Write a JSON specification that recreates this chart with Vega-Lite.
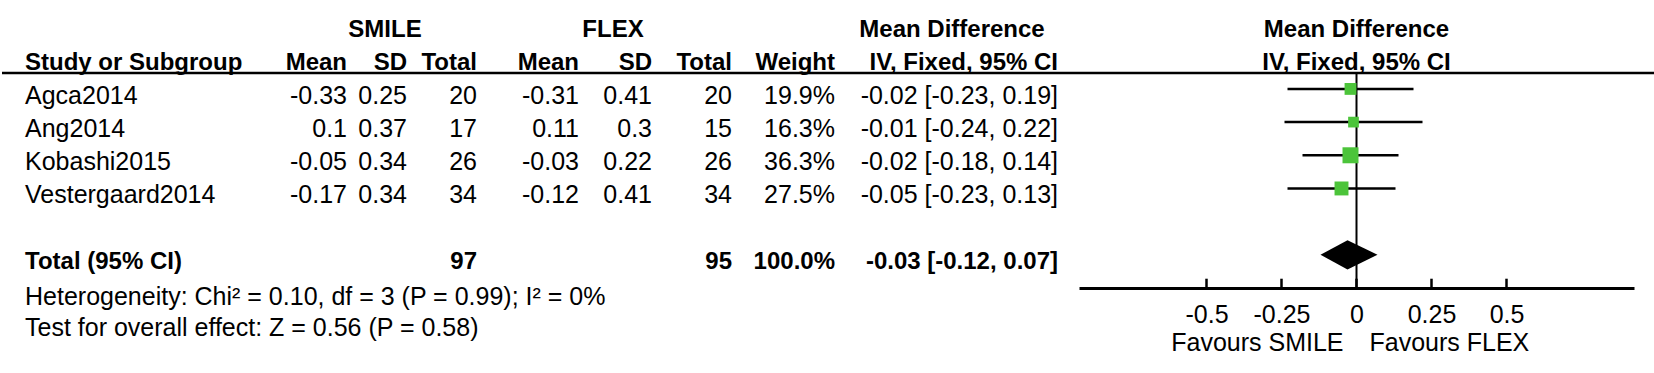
{
"$schema":"https://vega.github.io/schema/vega-lite/v6.json",
"padding":0,
"spacing":0,
"bounds":"flush",
"background":"white",
"config":{"view":{"stroke":null},"text":{"font":"Liberation Sans","fontSize":25,"color":"black"}},
"data":{"values":[{}]},
"datasets":{
"studies":[
{"study":"Agca2014","row":1,"s_mean":-0.33,"s_sd":0.25,"s_n":20,"f_mean":-0.31,"f_sd":0.41,"f_n":20,"weight":19.9,"w":"19.9%","md":-0.02,"lo":-0.23,"hi":0.19,"ci":"-0.02 [-0.23, 0.19]"},
{"study":"Ang2014","row":2,"s_mean":0.1,"s_sd":0.37,"s_n":17,"f_mean":0.11,"f_sd":0.3,"f_n":15,"weight":16.3,"w":"16.3%","md":-0.01,"lo":-0.24,"hi":0.22,"ci":"-0.01 [-0.24, 0.22]"},
{"study":"Kobashi2015","row":3,"s_mean":-0.05,"s_sd":0.34,"s_n":26,"f_mean":-0.03,"f_sd":0.22,"f_n":26,"weight":36.3,"w":"36.3%","md":-0.02,"lo":-0.18,"hi":0.14,"ci":"-0.02 [-0.18, 0.14]"},
{"study":"Vestergaard2014","row":4,"s_mean":-0.17,"s_sd":0.34,"s_n":34,"f_mean":-0.12,"f_sd":0.41,"f_n":34,"weight":27.5,"w":"27.5%","md":-0.05,"lo":-0.23,"hi":0.13,"ci":"-0.05 [-0.23, 0.13]"}
],
"total":[{"label":"Total (95% CI)","row":6,"s_n":97,"f_n":95,"w":"100.0%","ci":"-0.03 [-0.12, 0.07]","md":-0.03,"lo":-0.12,"hi":0.07}],
"diamond":[{"x":-0.12,"top":6,"bottom":6},{"x":-0.03,"top":5.56,"bottom":6.44},{"x":0.07,"top":6,"bottom":6}],
"ticks":[{"v":-0.5},{"v":-0.25},{"v":0},{"v":0.25},{"v":0.5}]
},
"hconcat":[
{"width":270,"height":288,"layer":[
{"mark":{"type":"rule","strokeWidth":2.5,"color":"black"},"encoding":{"y":{"datum":0.52,"type":"quantitative","scale":{"domain":[-1.68,7],"reverse":true,"nice":false,"zero":false},"axis":null}}},
{"mark":{"type":"text","align":"left","baseline":"middle","dx":23,"dy":7,"fontWeight":"bold","fontSize":24},"encoding":{"x":{"value":0},"y":{"datum":0,"type":"quantitative","scale":{"domain":[-1.68,7],"reverse":true,"nice":false,"zero":false},"axis":null},"text":{"value":"Study or Subgroup"}}},
{"data":{"name":"studies"},"mark":{"type":"text","align":"left","baseline":"middle","dx":23,"dy":7},"encoding":{"x":{"value":0},"y":{"field":"row","type":"quantitative","scale":{"domain":[-1.68,7],"reverse":true,"nice":false,"zero":false},"axis":null},"text":{"field":"study","type":"nominal"}}},
{"data":{"name":"total"},"mark":{"type":"text","align":"left","baseline":"middle","dx":23,"dy":7,"fontWeight":"bold","fontSize":24},"encoding":{"x":{"value":0},"y":{"field":"row","type":"quantitative","scale":{"domain":[-1.68,7],"reverse":true,"nice":false,"zero":false},"axis":null},"text":{"field":"label","type":"nominal"}}},
{"mark":{"type":"text","align":"left","baseline":"middle","dx":23,"dy":7},"encoding":{"x":{"value":0},"y":{"datum":7.05,"type":"quantitative","scale":{"domain":[-1.68,7],"reverse":true,"nice":false,"zero":false},"axis":null},"text":{"value":"Heterogeneity: Chi² = 0.10, df = 3 (P = 0.99); I² = 0%"}}},
{"mark":{"type":"text","align":"left","baseline":"middle","dx":23,"dy":7},"encoding":{"x":{"value":0},"y":{"datum":8,"type":"quantitative","scale":{"domain":[-1.68,7],"reverse":true,"nice":false,"zero":false},"axis":null},"text":{"value":"Test for overall effect: Z = 0.56 (P = 0.58)"}}}
]},
{"width":75,"height":288,"layer":[
{"mark":{"type":"rule","strokeWidth":2.5,"color":"black"},"encoding":{"y":{"datum":0.52,"type":"quantitative","scale":{"domain":[-1.68,7],"reverse":true,"nice":false,"zero":false},"axis":null}}},
{"mark":{"type":"text","align":"right","baseline":"middle","dy":7,"fontWeight":"bold","fontSize":24},"encoding":{"x":{"value":"width"},"y":{"datum":0,"type":"quantitative","scale":{"domain":[-1.68,7],"reverse":true,"nice":false,"zero":false},"axis":null},"text":{"value":"Mean"}}},
{"data":{"name":"studies"},"mark":{"type":"text","align":"right","baseline":"middle","dy":7},"encoding":{"x":{"value":"width"},"y":{"field":"row","type":"quantitative","scale":{"domain":[-1.68,7],"reverse":true,"nice":false,"zero":false},"axis":null},"text":{"field":"s_mean","type":"nominal"}}}
]},
{"width":60,"height":288,"layer":[
{"mark":{"type":"rule","strokeWidth":2.5,"color":"black"},"encoding":{"y":{"datum":0.52,"type":"quantitative","scale":{"domain":[-1.68,7],"reverse":true,"nice":false,"zero":false},"axis":null}}},
{"mark":{"type":"text","align":"right","baseline":"middle","dy":7,"fontWeight":"bold","fontSize":24},"encoding":{"x":{"value":"width"},"y":{"datum":0,"type":"quantitative","scale":{"domain":[-1.68,7],"reverse":true,"nice":false,"zero":false},"axis":null},"text":{"value":"SD"}}},
{"mark":{"type":"text","align":"center","baseline":"middle","dx":-22,"dy":7,"fontWeight":"bold","fontSize":24},"encoding":{"x":{"value":"width"},"y":{"datum":-1,"type":"quantitative","scale":{"domain":[-1.68,7],"reverse":true,"nice":false,"zero":false},"axis":null},"text":{"value":"SMILE"}}},
{"data":{"name":"studies"},"mark":{"type":"text","align":"right","baseline":"middle","dy":7},"encoding":{"x":{"value":"width"},"y":{"field":"row","type":"quantitative","scale":{"domain":[-1.68,7],"reverse":true,"nice":false,"zero":false},"axis":null},"text":{"field":"s_sd","type":"nominal"}}}
]},
{"width":70,"height":288,"layer":[
{"mark":{"type":"rule","strokeWidth":2.5,"color":"black"},"encoding":{"y":{"datum":0.52,"type":"quantitative","scale":{"domain":[-1.68,7],"reverse":true,"nice":false,"zero":false},"axis":null}}},
{"mark":{"type":"text","align":"right","baseline":"middle","dy":7,"fontWeight":"bold","fontSize":24},"encoding":{"x":{"value":"width"},"y":{"datum":0,"type":"quantitative","scale":{"domain":[-1.68,7],"reverse":true,"nice":false,"zero":false},"axis":null},"text":{"value":"Total"}}},
{"data":{"name":"studies"},"mark":{"type":"text","align":"right","baseline":"middle","dy":7},"encoding":{"x":{"value":"width"},"y":{"field":"row","type":"quantitative","scale":{"domain":[-1.68,7],"reverse":true,"nice":false,"zero":false},"axis":null},"text":{"field":"s_n","type":"nominal"}}},
{"data":{"name":"total"},"mark":{"type":"text","align":"right","baseline":"middle","dy":7,"fontWeight":"bold","fontSize":24},"encoding":{"x":{"value":"width"},"y":{"field":"row","type":"quantitative","scale":{"domain":[-1.68,7],"reverse":true,"nice":false,"zero":false},"axis":null},"text":{"field":"s_n","type":"nominal"}}}
]},
{"width":102,"height":288,"layer":[
{"mark":{"type":"rule","strokeWidth":2.5,"color":"black"},"encoding":{"y":{"datum":0.52,"type":"quantitative","scale":{"domain":[-1.68,7],"reverse":true,"nice":false,"zero":false},"axis":null}}},
{"mark":{"type":"text","align":"right","baseline":"middle","dy":7,"fontWeight":"bold","fontSize":24},"encoding":{"x":{"value":"width"},"y":{"datum":0,"type":"quantitative","scale":{"domain":[-1.68,7],"reverse":true,"nice":false,"zero":false},"axis":null},"text":{"value":"Mean"}}},
{"data":{"name":"studies"},"mark":{"type":"text","align":"right","baseline":"middle","dy":7},"encoding":{"x":{"value":"width"},"y":{"field":"row","type":"quantitative","scale":{"domain":[-1.68,7],"reverse":true,"nice":false,"zero":false},"axis":null},"text":{"field":"f_mean","type":"nominal"}}}
]},
{"width":73,"height":288,"layer":[
{"mark":{"type":"rule","strokeWidth":2.5,"color":"black"},"encoding":{"y":{"datum":0.52,"type":"quantitative","scale":{"domain":[-1.68,7],"reverse":true,"nice":false,"zero":false},"axis":null}}},
{"mark":{"type":"text","align":"right","baseline":"middle","dy":7,"fontWeight":"bold","fontSize":24},"encoding":{"x":{"value":"width"},"y":{"datum":0,"type":"quantitative","scale":{"domain":[-1.68,7],"reverse":true,"nice":false,"zero":false},"axis":null},"text":{"value":"SD"}}},
{"mark":{"type":"text","align":"center","baseline":"middle","dx":-39,"dy":7,"fontWeight":"bold","fontSize":24},"encoding":{"x":{"value":"width"},"y":{"datum":-1,"type":"quantitative","scale":{"domain":[-1.68,7],"reverse":true,"nice":false,"zero":false},"axis":null},"text":{"value":"FLEX"}}},
{"data":{"name":"studies"},"mark":{"type":"text","align":"right","baseline":"middle","dy":7},"encoding":{"x":{"value":"width"},"y":{"field":"row","type":"quantitative","scale":{"domain":[-1.68,7],"reverse":true,"nice":false,"zero":false},"axis":null},"text":{"field":"f_sd","type":"nominal"}}}
]},
{"width":80,"height":288,"layer":[
{"mark":{"type":"rule","strokeWidth":2.5,"color":"black"},"encoding":{"y":{"datum":0.52,"type":"quantitative","scale":{"domain":[-1.68,7],"reverse":true,"nice":false,"zero":false},"axis":null}}},
{"mark":{"type":"text","align":"right","baseline":"middle","dy":7,"fontWeight":"bold","fontSize":24},"encoding":{"x":{"value":"width"},"y":{"datum":0,"type":"quantitative","scale":{"domain":[-1.68,7],"reverse":true,"nice":false,"zero":false},"axis":null},"text":{"value":"Total"}}},
{"data":{"name":"studies"},"mark":{"type":"text","align":"right","baseline":"middle","dy":7},"encoding":{"x":{"value":"width"},"y":{"field":"row","type":"quantitative","scale":{"domain":[-1.68,7],"reverse":true,"nice":false,"zero":false},"axis":null},"text":{"field":"f_n","type":"nominal"}}},
{"data":{"name":"total"},"mark":{"type":"text","align":"right","baseline":"middle","dy":7,"fontWeight":"bold","fontSize":24},"encoding":{"x":{"value":"width"},"y":{"field":"row","type":"quantitative","scale":{"domain":[-1.68,7],"reverse":true,"nice":false,"zero":false},"axis":null},"text":{"field":"f_n","type":"nominal"}}}
]},
{"width":103,"height":288,"layer":[
{"mark":{"type":"rule","strokeWidth":2.5,"color":"black"},"encoding":{"y":{"datum":0.52,"type":"quantitative","scale":{"domain":[-1.68,7],"reverse":true,"nice":false,"zero":false},"axis":null}}},
{"mark":{"type":"text","align":"right","baseline":"middle","dy":7,"fontWeight":"bold","fontSize":24},"encoding":{"x":{"value":"width"},"y":{"datum":0,"type":"quantitative","scale":{"domain":[-1.68,7],"reverse":true,"nice":false,"zero":false},"axis":null},"text":{"value":"Weight"}}},
{"data":{"name":"studies"},"mark":{"type":"text","align":"right","baseline":"middle","dy":7},"encoding":{"x":{"value":"width"},"y":{"field":"row","type":"quantitative","scale":{"domain":[-1.68,7],"reverse":true,"nice":false,"zero":false},"axis":null},"text":{"field":"w","type":"nominal"}}},
{"data":{"name":"total"},"mark":{"type":"text","align":"right","baseline":"middle","dy":7,"fontWeight":"bold","fontSize":24},"encoding":{"x":{"value":"width"},"y":{"field":"row","type":"quantitative","scale":{"domain":[-1.68,7],"reverse":true,"nice":false,"zero":false},"axis":null},"text":{"field":"w","type":"nominal"}}}
]},
{"width":223,"height":288,"layer":[
{"mark":{"type":"rule","strokeWidth":2.5,"color":"black"},"encoding":{"y":{"datum":0.52,"type":"quantitative","scale":{"domain":[-1.68,7],"reverse":true,"nice":false,"zero":false},"axis":null}}},
{"mark":{"type":"text","align":"right","baseline":"middle","dy":7,"fontWeight":"bold","fontSize":24},"encoding":{"x":{"value":"width"},"y":{"datum":0,"type":"quantitative","scale":{"domain":[-1.68,7],"reverse":true,"nice":false,"zero":false},"axis":null},"text":{"value":"IV, Fixed, 95% CI"}}},
{"mark":{"type":"text","align":"center","baseline":"middle","dx":-106,"dy":7,"fontWeight":"bold","fontSize":24},"encoding":{"x":{"value":"width"},"y":{"datum":-1,"type":"quantitative","scale":{"domain":[-1.68,7],"reverse":true,"nice":false,"zero":false},"axis":null},"text":{"value":"Mean Difference"}}},
{"data":{"name":"studies"},"mark":{"type":"text","align":"right","baseline":"middle","dy":7},"encoding":{"x":{"value":"width"},"y":{"field":"row","type":"quantitative","scale":{"domain":[-1.68,7],"reverse":true,"nice":false,"zero":false},"axis":null},"text":{"field":"ci","type":"nominal"}}},
{"data":{"name":"total"},"mark":{"type":"text","align":"right","baseline":"middle","dy":7,"fontWeight":"bold","fontSize":24},"encoding":{"x":{"value":"width"},"y":{"field":"row","type":"quantitative","scale":{"domain":[-1.68,7],"reverse":true,"nice":false,"zero":false},"axis":null},"text":{"field":"ci","type":"nominal"}}}
]},
{"width":598,"height":288,"layer":[
{"mark":{"type":"rule","strokeWidth":2.5,"color":"black"},"encoding":{"y":{"datum":0.52,"type":"quantitative","scale":{"domain":[-1.68,7],"reverse":true,"nice":false,"zero":false},"axis":null}}},
{"mark":{"type":"text","align":"center","baseline":"middle","dy":7,"fontWeight":"bold","fontSize":24},"encoding":{"x":{"datum":0,"type":"quantitative","scale":{"domain":[-0.925,0.925],"range":[21,576],"nice":false,"zero":false},"axis":{"values":[-0.5,-0.25,0,0.25,0.5],"ticks":false,"tickSize":0,"grid":false,"title":null,"domainColor":"black","domainWidth":3,"labelFont":"Liberation Sans","labelFontSize":25,"labelColor":"black","labelPadding":14,"labelExpr":"toString(datum.value)","labelOverlap":false,"labelFlush":false,"labelBound":false}},"y":{"datum":-1,"type":"quantitative","scale":{"domain":[-1.68,7],"reverse":true,"nice":false,"zero":false},"axis":null},"text":{"value":"Mean Difference"}}},
{"mark":{"type":"text","align":"center","baseline":"middle","dy":7,"fontWeight":"bold","fontSize":24},"encoding":{"x":{"datum":0,"type":"quantitative"},"y":{"datum":0,"type":"quantitative","scale":{"domain":[-1.68,7],"reverse":true,"nice":false,"zero":false},"axis":null},"text":{"value":"IV, Fixed, 95% CI"}}},
{"mark":{"type":"rule","strokeWidth":2,"color":"black"},"encoding":{"x":{"datum":0,"type":"quantitative"},"y":{"datum":0.52,"type":"quantitative","scale":{"domain":[-1.68,7],"reverse":true,"nice":false,"zero":false},"axis":null},"y2":{"datum":7}}},
{"data":{"name":"ticks"},"mark":{"type":"rule","strokeWidth":2.5,"color":"black"},"encoding":{"x":{"field":"v","type":"quantitative"},"y":{"datum":7,"type":"quantitative","scale":{"domain":[-1.68,7],"reverse":true,"nice":false,"zero":false},"axis":null},"y2":{"datum":6.72}}},
{"data":{"name":"studies"},"mark":{"type":"rule","strokeWidth":2.5,"color":"black"},"encoding":{"x":{"field":"lo","type":"quantitative"},"x2":{"field":"hi"},"y":{"field":"row","type":"quantitative","scale":{"domain":[-1.68,7],"reverse":true,"nice":false,"zero":false},"axis":null}}},
{"data":{"name":"studies"},"mark":{"type":"point","shape":"square","filled":true,"opacity":1,"color":"#4cc43a","strokeWidth":0},"encoding":{"x":{"field":"md","type":"quantitative"},"y":{"field":"row","type":"quantitative","scale":{"domain":[-1.68,7],"reverse":true,"nice":false,"zero":false},"axis":null},"size":{"field":"weight","type":"quantitative","scale":{"domain":[0,36.3],"range":[0,256],"zero":true},"legend":null}}},
{"data":{"name":"diamond"},"mark":{"type":"area","color":"black","opacity":1},"encoding":{"x":{"field":"x","type":"quantitative"},"y":{"field":"top","type":"quantitative","scale":{"domain":[-1.68,7],"reverse":true,"nice":false,"zero":false},"axis":null},"y2":{"field":"bottom"}}},
{"mark":{"type":"text","align":"right","baseline":"middle","dx":-13,"dy":7},"encoding":{"x":{"datum":0,"type":"quantitative"},"y":{"datum":8.44,"type":"quantitative","scale":{"domain":[-1.68,7],"reverse":true,"nice":false,"zero":false},"axis":null},"text":{"value":"Favours SMILE"}}},
{"mark":{"type":"text","align":"left","baseline":"middle","dx":13,"dy":7},"encoding":{"x":{"datum":0,"type":"quantitative"},"y":{"datum":8.44,"type":"quantitative","scale":{"domain":[-1.68,7],"reverse":true,"nice":false,"zero":false},"axis":null},"text":{"value":"Favours FLEX"}}}
]}
]
}
